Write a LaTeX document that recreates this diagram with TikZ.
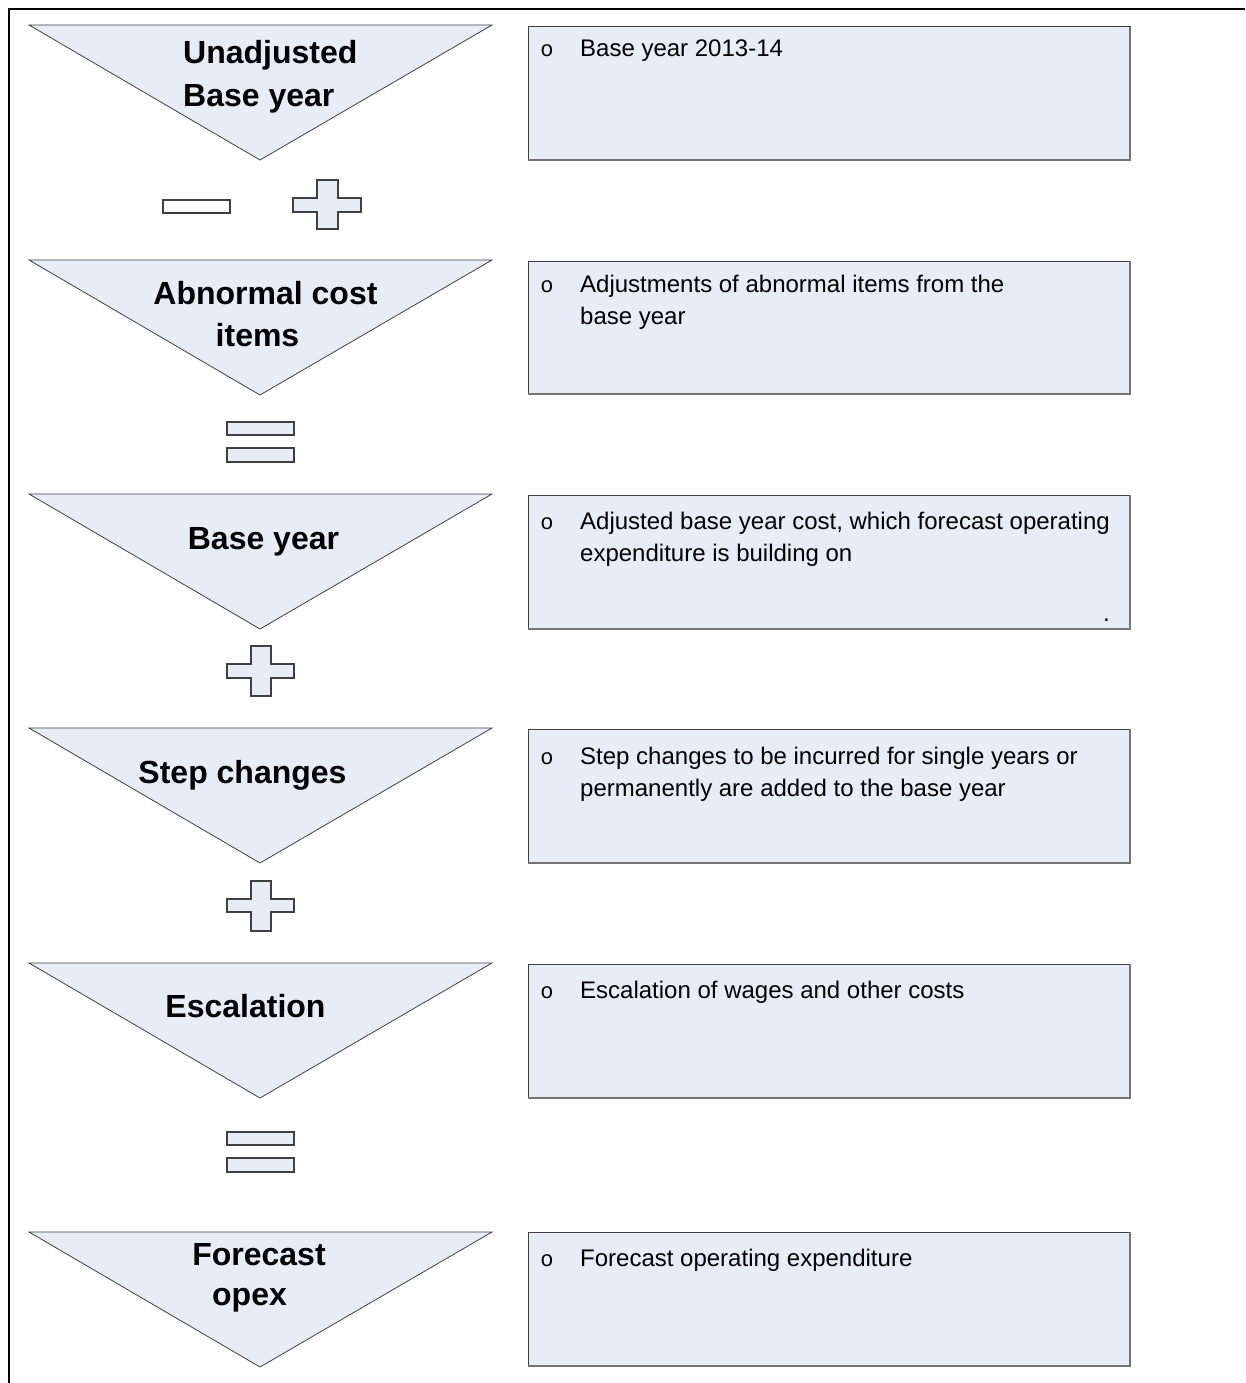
\documentclass[tikz,border=0pt]{standalone}
\usepackage{fontspec}
\setmainfont{Liberation Sans}
\newfontfamily\bulletfont{Liberation Mono}
\definecolor{tribg}{HTML}{E6EDF7}
\definecolor{edge}{HTML}{404040}
\tikzset{
  tri/.style={fill=tribg, draw=edge, line width=0.8pt},
  infobox/.style={fill=tribg, draw=edge, line width=1pt},
  boxshade/.style={draw=black!55, line width=1.5pt},
  sym/.style={fill=tribg, draw=edge, line width=1.2pt},
  ttl/.style={font=\fontsize{32}{36}\selectfont\bfseries, anchor=base, inner sep=0pt},
  ttlw/.style={font=\fontsize{32}{36}\selectfont\bfseries, anchor=base west, inner sep=0pt},
  txt/.style={font=\fontsize{24}{28}\selectfont, anchor=base west, inner sep=0pt},
  bul/.style={font=\bulletfont\fontsize{22}{26}\selectfont, anchor=base, inner sep=0pt},
  frame/.style={draw=black, line width=2.7pt},
}
\newcommand\mytri[1]{\path[tri] (29,#1) -- (492,#1) -- (260,#1+135) -- cycle;}
\newcommand\mybox[2]{\path[infobox] (528,#1) rectangle (1130,#2);
  \draw[boxshade] (1130,#1) -- (1130,#2) -- (528,#2);}
\newcommand\myplus[8]{\path[sym] (#1,#6) -- (#2,#6) -- (#2,#5) -- (#3,#5) -- (#3,#6) -- (#4,#6)
  -- (#4,#7) -- (#3,#7) -- (#3,#8) -- (#2,#8) -- (#2,#7) -- (#1,#7) -- cycle;}
\begin{document}
\begin{tikzpicture}[x=1pt,y=-1pt]
\useasboundingbox (0,0) rectangle (1245,1383);
% frame
\draw[frame] (1245,9) -- (9,9) -- (9,1383);
% triangles
\mytri{25}
\mytri{260}
\mytri{494}
\mytri{728}
\mytri{963}
\mytri{1232}
% boxes
\mybox{27}{160}
\mybox{261}{394}
\mybox{495}{629}
\mybox{729}{863}
\mybox{964}{1098}
\mybox{1232}{1366}
% operators
\path[sym, fill=white] (163,200) rectangle (230,213);
\myplus{293}{317}{338}{361}{180}{198}{212}{229}
\path[sym] (227,422) rectangle (294,435);
\path[sym] (227,448) rectangle (294,462);
\myplus{227}{251}{271}{294}{646}{664}{678}{696}
\myplus{227}{251}{271}{294}{881}{899}{912}{931}
\path[sym] (227,1132) rectangle (294,1145);
\path[sym] (227,1158) rectangle (294,1172);
% triangle labels
\node[ttlw] (l1a) at (183,64) {Unadjusted};
\node[ttlw] (l1b) at (183,107) {Base year};
\node[ttl] (l2a) at (265.5,304) {Abnormal cost};
\node[ttl] (l2b) at (257.5,346) {items};
\node[ttl] (l3a) at (263.5,549) {Base year};
\node[ttl] (l4a) at (242.5,783) {Step changes};
\node[ttl] (l5a) at (245.5,1017) {Escalation};
\node[ttl] (l6a) at (259,1265) {Forecast};
\node[ttl] (l6b) at (249.5,1305) {opex};
% bullets
\node[bul] (b1) at (547,57) {o};
\node[bul] (b2) at (547,292) {o};
\node[bul] (b3) at (547,529) {o};
\node[bul] (b4) at (547,764) {o};
\node[bul] (b5) at (547,998) {o};
\node[bul] (b6) at (547,1266) {o};
% box texts
\node[txt] (t1a) at (580,57) {Base year 2013-14};
\node[txt] (t2a) at (580,292) {Adjustments of abnormal items from the};
\node[txt] (t2b) at (580,324) {base year};
\node[txt] (t3a) at (580,529) {Adjusted base year cost, which forecast operating};
\node[txt] (t3b) at (580,561) {expenditure is building on};
\node[txt] (t3c) at (1103,621) {.};
\node[txt] (t4a) at (580,764) {Step changes to be incurred for single years or};
\node[txt] (t4b) at (580,796) {permanently are added to the base year};
\node[txt] (t5a) at (580,998) {Escalation of wages and other costs};
\node[txt] (t6a) at (580,1266) {Forecast operating expenditure};
\end{tikzpicture}
\end{document}
